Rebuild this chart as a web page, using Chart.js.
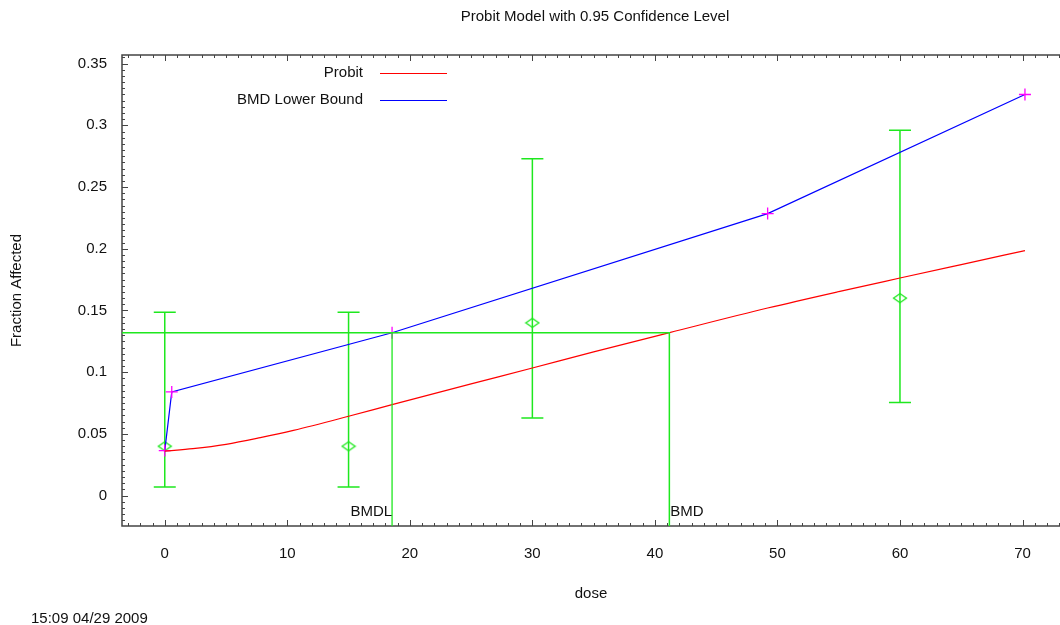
<!DOCTYPE html>
<html>
<head>
<meta charset="utf-8">
<title>Probit Model with 0.95 Confidence Level</title>
<script src="https://cdn.jsdelivr.net/npm/chart.js@4.4.0/dist/chart.umd.min.js"></script>
<style>
  html, body { margin: 0; padding: 0; background: #fff; overflow: hidden; }
  canvas { display: block; }
</style>
</head>
<body>
<canvas id="chart" width="1060" height="625"></canvas>
<script>
// fitted probit curve
var probitDose = [0, 2.3, 5, 7.8, 10.5, 15, 18.55, 25, 30, 35, 41.2, 49.2, 55, 60, 65, 70.2];
var probitFrac = [0.0361, 0.0381, 0.0416, 0.047, 0.0529, 0.0643, 0.0737, 0.0905, 0.1034, 0.1165, 0.1321, 0.152, 0.1653, 0.1763, 0.1872, 0.1985];

// BMD lower bound curve
var lowerDose = [0, 0.57, 18.55, 49.2, 70.2];
var lowerFrac = [0.0365, 0.084, 0.132, 0.2285, 0.325];

// observed fractions with confidence bars
var obsDose = [0, 15, 30, 60];
var obsFrac = [0.04, 0.04, 0.14, 0.16];
var obsLow = [0.007, 0.007, 0.063, 0.0755];
var obsHigh = [0.1485, 0.1485, 0.273, 0.296];

var bmr = 0.132;
var bmd = 41.18;
var bmdl = 18.55;

var xTicks = [0, 10, 20, 30, 40, 50, 60, 70];
var yTicks = [0, 0.05, 0.1, 0.15, 0.2, 0.25, 0.3, 0.35];
var yTickLabels = ['0', '0.05', '0.1', '0.15', '0.2', '0.25', '0.3', '0.35'];

var xMin = -3.49, xMax = 73.06;
var yMin = -0.0246, yMax = 0.357;

var FONT = '"Liberation Sans", Arial, sans-serif';
var GREEN = '#1ee81e';

function pts(xs, ys) {
    return xs.map(function(x, i) { return {x: x, y: ys[i]}; });
}

function noPad(s) {
    s.paddingLeft = 0; s.paddingRight = 0; s.paddingTop = 0; s.paddingBottom = 0;
}

// hollow diamond, a bit wider than tall
var diamond = document.createElement('canvas');
diamond.width = 16; diamond.height = 12;
(function() {
    var c = diamond.getContext('2d');
    c.strokeStyle = GREEN;
    c.lineWidth = 1.3;
    c.beginPath();
    c.moveTo(1.5, 6); c.lineTo(8, 1.5); c.lineTo(14.5, 6); c.lineTo(8, 10.5); c.closePath();
    c.stroke();
})();

// frame with inward ticks, error bars, texts
var frame = {
    id: 'frame',
    afterLayout: function(chart) {
        // let the plot run to the right edge of the canvas like the original
        var sx = chart.scales.x, a = chart.chartArea;
        if (a.right < chart.width - 0.5) {
            a.right = chart.width;
            a.width = a.right - a.left;
            sx.right = chart.width;
            sx.width = sx.right - sx.left;
            sx.configure();
        }
    },
    beforeDatasetsDraw: function(chart) {
        var ctx = chart.ctx, a = chart.chartArea;
        var sx = chart.scales.x, sy = chart.scales.y;
        ctx.save();
        ctx.strokeStyle = '#444';
        ctx.lineWidth = 1.5;
        ctx.beginPath();
        ctx.moveTo(a.right, a.top); ctx.lineTo(a.left, a.top);
        ctx.lineTo(a.left, a.bottom); ctx.lineTo(a.right, a.bottom);
        ctx.stroke();

        ctx.lineWidth = 1;
        ctx.beginPath();
        for (var i = Math.ceil(xMin); i <= Math.floor(xMax); i++) {
            var px = Math.round(sx.getPixelForValue(i)) + 0.5;
            var len = (i % 10 === 0) ? 6 : 3;
            ctx.moveTo(px, a.bottom); ctx.lineTo(px, a.bottom - len);
            ctx.moveTo(px, a.top); ctx.lineTo(px, a.top + len);
        }
        for (var j = -4; j <= 71; j++) {
            var py = Math.round(sy.getPixelForValue(j * 0.005)) + 0.5;
            var l2 = (j % 10 === 0) ? 6 : 3;
            ctx.moveTo(a.left, py); ctx.lineTo(a.left + l2, py);
        }
        ctx.stroke();

        // error bars
        ctx.save();
        ctx.beginPath();
        ctx.rect(a.left, a.top, a.right - a.left, a.bottom - a.top);
        ctx.clip();
        ctx.strokeStyle = GREEN;
        ctx.lineWidth = 1.5;
        ctx.beginPath();
        obsDose.forEach(function(d, k) {
            var px = sx.getPixelForValue(d);
            var lo = sy.getPixelForValue(obsLow[k]);
            var hi = sy.getPixelForValue(obsHigh[k]);
            ctx.moveTo(px, lo); ctx.lineTo(px, hi);
            ctx.moveTo(px - 11, lo); ctx.lineTo(px + 11, lo);
            ctx.moveTo(px - 11, hi); ctx.lineTo(px + 11, hi);
        });
        ctx.stroke();
        ctx.restore();
        ctx.restore();
    },
    afterDraw: function(chart) {
        var ctx = chart.ctx, a = chart.chartArea;
        var sx = chart.scales.x;
        ctx.save();
        ctx.fillStyle = '#111';
        ctx.font = '15px ' + FONT;
        ctx.textBaseline = 'middle';

        ctx.textAlign = 'center';
        ctx.fillText('Probit Model with 0.95 Confidence Level', 595, 17);

        ctx.textAlign = 'left';
        ctx.fillText('15:09 04/29 2009', 31, 619);

        // BMD markers
        ctx.textAlign = 'right';
        ctx.fillText('BMDL', sx.getPixelForValue(bmdl), a.bottom - 14);
        ctx.textAlign = 'left';
        ctx.fillText('BMD', sx.getPixelForValue(bmd) + 1, a.bottom - 14);

        // legend
        var items = chart.data.datasets.filter(function(ds) { return ds.inLegend; });
        items.forEach(function(ds, k) {
            var ly = 73 + k * 27;
            ctx.textAlign = 'right';
            ctx.fillStyle = '#111';
            ctx.fillText(ds.label, 363, ly);
            ctx.strokeStyle = ds.borderColor;
            ctx.lineWidth = 1.2;
            ctx.beginPath();
            ctx.moveTo(380, ly + 0.5); ctx.lineTo(447, ly + 0.5);
            ctx.stroke();
        });
        ctx.restore();
    }
};

new Chart(document.getElementById('chart'), {
    type: 'scatter',
    data: {
        datasets: [
            {
                label: 'BMR',
                data: [{x: xMin, y: bmr}, {x: bmd, y: bmr}, {x: bmd, y: yMin}],
                showLine: true, borderColor: GREEN, borderWidth: 1.5,
                pointRadius: 0, fill: false
            },
            {
                label: 'BMDL line',
                data: [{x: bmdl, y: yMin}, {x: bmdl, y: bmr}],
                showLine: true, borderColor: GREEN, borderWidth: 1.3,
                pointRadius: 0, fill: false
            },
            {
                label: 'Probit',
                inLegend: true,
                data: pts(probitDose, probitFrac),
                showLine: true, borderColor: '#ff0000', borderWidth: 1.2,
                cubicInterpolationMode: 'monotone',
                pointRadius: 0, fill: false
            },
            {
                label: 'BMD Lower Bound',
                inLegend: true,
                data: pts(lowerDose, lowerFrac),
                showLine: true, borderColor: '#0000ff', borderWidth: 1.2,
                pointStyle: 'cross', pointRadius: 6,
                pointBorderColor: '#ff00ff', pointBorderWidth: 1.3,
                fill: false
            },
            {
                label: 'Data',
                data: pts(obsDose, obsFrac),
                showLine: false,
                pointStyle: diamond, pointRadius: 6
            }
        ]
    },
    options: {
        responsive: false,
        animation: false,
        devicePixelRatio: 1,
        layout: { padding: { top: 55, right: 0, bottom: 0, left: 0 } },
        plugins: {
            legend: { display: false },
            tooltip: { enabled: false },
            title: { display: false }
        },
        scales: {
            x: {
                type: 'linear', min: xMin, max: xMax,
                afterBuildTicks: function(s) { s.ticks = xTicks.map(function(v) { return {value: v}; }); },
                afterFit: function(s) { s.height = 99; noPad(s); },
                grid: { display: false, drawTicks: true, tickLength: 19 },
                border: { display: false },
                ticks: {
                    color: '#111', padding: 0, maxRotation: 0, autoSkip: false,
                    font: { family: FONT, size: 15 },
                    callback: function(v) { return String(v); }
                },
                title: {
                    display: true, text: 'dose', color: '#111',
                    font: { family: FONT, size: 15 },
                    padding: { top: 0, bottom: 22 }
                }
            },
            y: {
                type: 'linear', min: yMin, max: yMax,
                afterBuildTicks: function(s) { s.ticks = yTicks.map(function(v) { return {value: v}; }); },
                afterFit: function(s) { s.width = 122; noPad(s); },
                grid: { display: false, drawTicks: true, tickLength: 15 },
                border: { display: false },
                ticks: {
                    color: '#111', padding: 0, autoSkip: false,
                    font: { family: FONT, size: 15 },
                    callback: function(v, i) { return yTickLabels[i]; }
                },
                title: {
                    display: true, text: 'Fraction Affected', color: '#111',
                    font: { family: FONT, size: 15 },
                    padding: { top: 8, bottom: 0 }
                }
            }
        }
    },
    plugins: [frame]
});
</script>
</body>
</html>
